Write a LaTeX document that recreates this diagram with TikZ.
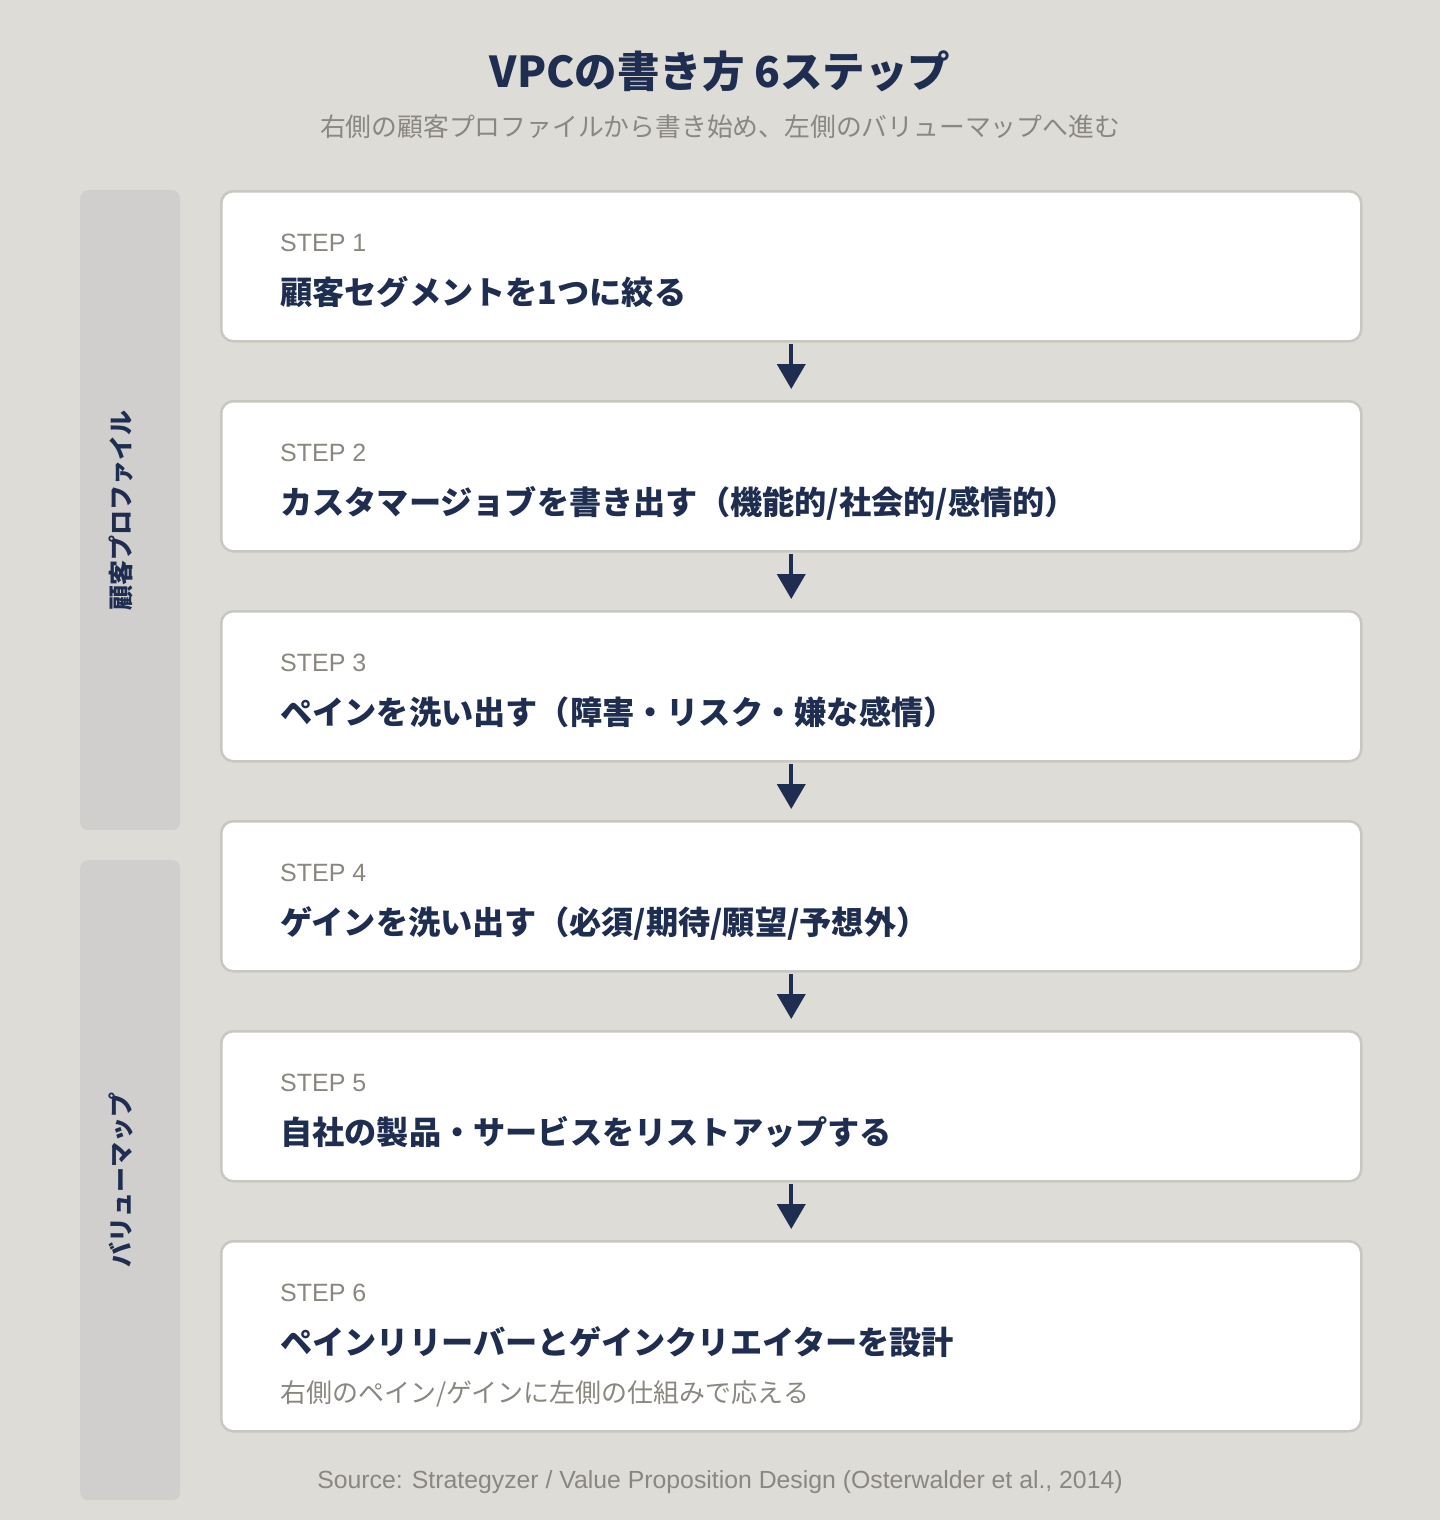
\documentclass[tikz,border=0pt]{standalone}
\usepackage{fontspec}
\setmainfont{Noto Sans CJK JP}
\newfontfamily\latinf{Liberation Sans}
\usetikzlibrary{arrows.meta}
\definecolor{bgc}{HTML}{DDDCD7}
\definecolor{panelc}{HTML}{D0CFCD}
\definecolor{boxline}{HTML}{C8C7C2}
\definecolor{navy}{HTML}{1E2D50}
\definecolor{graytxt}{HTML}{8A8780}
\tikzset{
  stepbox/.style={draw=boxline, line width=2.5pt, fill=white, rounded corners=12pt,
    minimum width=1140pt, minimum height=150pt, anchor=north west, inner sep=0pt},
  panelbox/.style={fill=panelc, rounded corners=8pt, minimum width=100pt,
    minimum height=640pt, anchor=north west, inner sep=0pt},
  panellbl/.style={text=navy, font=\fontsize{25}{30}\selectfont\bfseries, rotate=90, inner sep=0pt},
  steplbl/.style={text=graytxt, font=\latinf\fontsize{25}{30}\selectfont, anchor=base west, inner sep=0pt},
  steptxt/.style={text=navy, font=\fontsize{32.2}{38}\selectfont\bfseries, anchor=base west, inner sep=0pt},
  subtxt/.style={text=graytxt, font=\fontsize{26}{30}\selectfont, anchor=base west, inner sep=0pt},
  arr/.style={draw=navy, line width=4pt, -{Triangle[width=28pt,length=25pt]}, shorten >=11pt, shorten <=1.5pt},
}
\begin{document}
\begin{tikzpicture}[x=1pt,y=-1pt]
\fill[bgc] (0,0) rectangle (1440,1520);
\useasboundingbox (0,0) rectangle (1440,1520);

\node[anchor=base, text=navy, font=\fontsize{42.5}{50}\selectfont\bfseries, inner sep=0pt] (title) at (720,88) {VPCの書き方 6ステップ};
\node[anchor=base, text=graytxt, font=\fontsize{25.8}{30}\selectfont, inner sep=0pt] (subtitle) at (720,136) {右側の顧客プロファイルから書き始め、左側のバリューマップへ進む};

\node[panelbox] (p1) at (80,190) {};
\node[panelbox] (p2) at (80,860) {};
\node[panellbl] (pl1) at (121,510) {顧客プロファイル};
\node[panellbl] (pl2) at (121,1180) {バリューマップ};

\node[stepbox] (b1) at (220,190) {};
\node[stepbox] (b2) at (220,400) {};
\node[stepbox] (b3) at (220,610) {};
\node[stepbox] (b4) at (220,820) {};
\node[stepbox] (b5) at (220,1030) {};
\node[stepbox, minimum height=190pt] (b6) at (220,1240) {};

\node[steplbl] (l1) at (280,251) {STEP 1};
\node[steptxt] (t1) at (280,304) {顧客セグメントを1つに絞る};
\node[steplbl] (l2) at (280,461) {STEP 2};
\node[steptxt] (t2) at (280,514) {カスタマージョブを書き出す（機能的/社会的/感情的）};
\node[steplbl] (l3) at (280,671) {STEP 3};
\node[steptxt] (t3) at (280,724) {ペインを洗い出す（障害・リスク・嫌な感情）};
\node[steplbl] (l4) at (280,881) {STEP 4};
\node[steptxt] (t4) at (280,934) {ゲインを洗い出す（必須/期待/願望/予想外）};
\node[steplbl] (l5) at (280,1091) {STEP 5};
\node[steptxt] (t5) at (280,1144) {自社の製品・サービスをリストアップする};
\node[steplbl] (l6) at (280,1301) {STEP 6};
\node[steptxt] (t6) at (280,1354) {ペインリリーバーとゲインクリエイターを設計};
\node[subtxt] (s6) at (280,1402) {右側のペイン/ゲインに左側の仕組みで応える};

\draw[arr] (b1.south) -- (b2.north);
\draw[arr] (b2.south) -- (b3.north);
\draw[arr] (b3.south) -- (b4.north);
\draw[arr] (b4.south) -- (b5.north);
\draw[arr] (b5.south) -- (b6.north);

\node[anchor=base, text=graytxt, font=\latinf\fontsize{24.8}{28}\selectfont, inner sep=0pt] (src) at (720,1488) {Source: Strategyzer / Value Proposition Design (Osterwalder et al., 2014)};
\end{tikzpicture}
\end{document}
